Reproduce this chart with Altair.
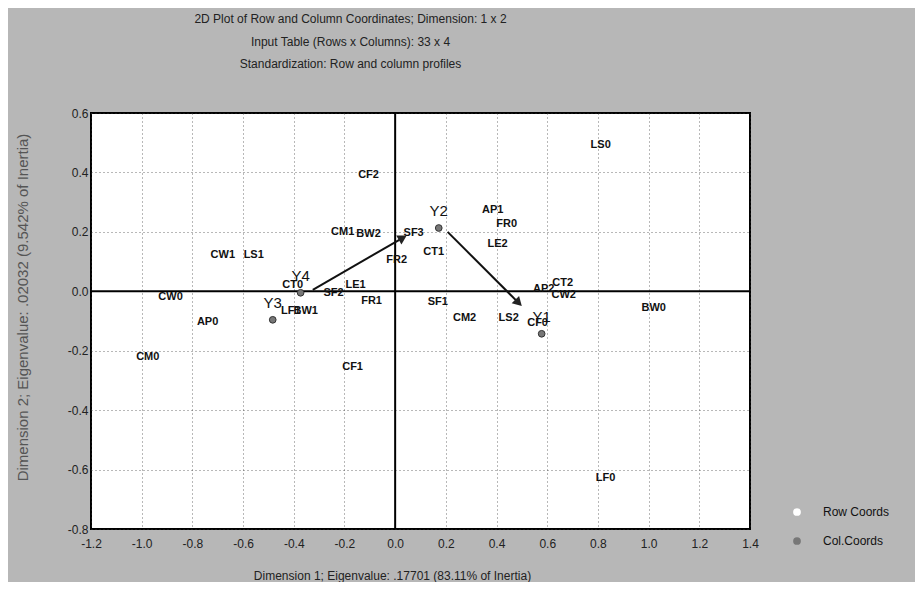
import math
import altair as alt
import pandas as pd

# ---------------- data ----------------
row_labels = ["CF2", "CM1", "BW2", "SF3", "FR2", "CT1", "CW1", "LS1", "CT0", "LE1",
              "SF2", "FR1", "LF1", "BW1", "CW0", "AP0", "CM0", "CF1", "LF0", "SF1",
              "CM2", "LS2", "CF0", "AP2", "CT2", "CW2", "BW0", "LS0", "AP1", "FR0", "LE2"]
row_x = [-0.105, -0.207, -0.105, 0.073, 0.006, 0.152, -0.680, -0.558, -0.404, -0.156,
         -0.243, -0.093, -0.412, -0.353, -0.886, -0.740, -0.976, -0.168, 0.830, 0.168,
         0.274, 0.448, 0.562, 0.586, 0.661, 0.665, 1.020, 0.811, 0.385, 0.440, 0.404]
row_y = [0.392, 0.200, 0.193, 0.197, 0.106, 0.133, 0.123, 0.123, 0.022, 0.022,
         -0.005, -0.032, -0.066, -0.066, -0.018, -0.103, -0.220, -0.254, -0.627, -0.035,
         -0.089, -0.089, -0.106, 0.008, 0.029, -0.012, -0.055, 0.492, 0.274, 0.227, 0.160]

col_labels = ["Y1", "Y2", "Y3", "Y4"]
col_x = [0.578, 0.172, -0.483, -0.373]
col_y = [-0.143, 0.213, -0.096, -0.005]

arrow_x = [-0.325, 0.207]
arrow_y = [0.005, 0.200]
arrow_x2 = [0.030, 0.487]
arrow_y2 = [0.180, -0.039]

x_ticks = [-1.2, -1.0, -0.8, -0.6, -0.4, -0.2, 0.0, 0.2, 0.4, 0.6, 0.8, 1.0, 1.2, 1.4]
y_ticks = [-0.8, -0.6, -0.4, -0.2, 0.0, 0.2, 0.4, 0.6]
x_domain = [-1.2, 1.4]
y_domain = [-0.8, 0.6]

title_lines = ["2D Plot of Row and Column Coordinates; Dimension: 1 x 2",
               "Input Table (Rows x Columns): 33 x 4",
               "Standardization: Row and column profiles"]
x_title = "Dimension 1; Eigenvalue: .17701 (83.11% of Inertia)"
y_title = "Dimension 2; Eigenvalue: .02032 (9.542% of Inertia)"
legend_names = ["Row Coords", "Col.Coords"]

# ---------------- layout ----------------
W, H = 659, 416
FONT = "Liberation Sans"

rows = pd.DataFrame({"label": row_labels, "x": row_x, "y": row_y})
cols = pd.DataFrame({"label": col_labels, "x": col_x, "y": col_y,
                     "kind": ["Col.Coords"] * len(col_labels)})

px_x = W / (x_domain[1] - x_domain[0])
px_y = H / (y_domain[1] - y_domain[0])
angles = []
for a, b, c, d in zip(arrow_x, arrow_y, arrow_x2, arrow_y2):
    ang = math.degrees(math.atan2(-(d - b) * px_y, (c - a) * px_x)) % 360
    angles.append(ang)
arrows = pd.DataFrame({"x": arrow_x, "y": arrow_y, "x2": arrow_x2, "y2": arrow_y2,
                       "angle": angles})
zero = pd.DataFrame({"v": [0.0]})

xscale = alt.Scale(domain=x_domain, nice=False, zero=False)
yscale = alt.Scale(domain=y_domain, nice=False, zero=False)

hyphen = "replace(format(datum.value, '.1f'), '\u2212', '-')"

xaxis = alt.Axis(values=x_ticks, labelExpr=hyphen, ticks=False, domain=False,
                 labelFlush=False, labelOverlap=False, labelPadding=9,
                 labelFontSize=12, labelFont=FONT, labelColor="#222",
                 grid=True, gridDash=[1, 3], gridColor="#333", gridOpacity=0.7,
                 titleFont=FONT, titleFontSize=12, titleFontWeight="normal",
                 titleColor="#222", titleX=301, titleY=46, titleAlign="center",
                 titleBaseline="middle")
yaxis = alt.Axis(values=y_ticks, labelExpr=hyphen, ticks=False, domain=False,
                 labelFlush=False, labelOverlap=False, labelPadding=3,
                 labelFontSize=12, labelFont=FONT, labelColor="#222",
                 grid=True, gridDash=[1, 3], gridColor="#333", gridOpacity=0.7,
                 titleFont=FONT, titleFontSize=15, titleFontWeight="normal",
                 titleColor="#555", titleX=-69, titleY=194, titleAngle=270,
                 titleAlign="center", titleBaseline="middle")


def X(field):
    return alt.X(field, type="quantitative", scale=xscale, axis=xaxis, title=x_title)


def Y(field):
    return alt.Y(field, type="quantitative", scale=yscale, axis=yaxis, title=y_title)


vline = alt.Chart(zero).mark_rule(color="black", strokeWidth=2).encode(x=X("v"))
hline = alt.Chart(zero).mark_rule(color="black", strokeWidth=2).encode(y=Y("v"))

row_text = alt.Chart(rows).mark_text(font=FONT, fontSize=11, fontWeight="bold",
                                     color="#111", align="center",
                                     baseline="middle").encode(
    x=X("x"), y=Y("y"), text="label:N")

arrow_lines = alt.Chart(arrows).mark_rule(color="#111", strokeWidth=2).encode(
    x=X("x"), y=Y("y"), x2="x2:Q", y2="y2:Q")
arrow_heads = alt.Chart(arrows).mark_point(shape="triangle-right", filled=True,
                                           size=110, color="#222",
                                           opacity=1).encode(
    x=X("x2"), y=Y("y2"), angle=alt.Angle("angle:Q", scale=None))

col_pts = alt.Chart(cols).mark_point(filled=True, size=45, stroke="#333",
                                     strokeWidth=1, opacity=1).encode(
    x=X("x"), y=Y("y"),
    color=alt.Color("kind:N",
                    scale=alt.Scale(domain=legend_names, range=["#ffffff", "#777777"]),
                    legend=alt.Legend(title=None, orient="none", legendX=700,
                                      legendY=393, labelFont=FONT, labelFontSize=12,
                                      labelColor="#111", symbolSize=60,
                                      symbolStrokeWidth=0, rowPadding=17,
                                      labelOffset=20, symbolType="circle")))
col_text = alt.Chart(cols).mark_text(font=FONT, fontSize=15, color="#111",
                                     align="center", baseline="middle",
                                     dy=-17).encode(
    x=X("x"), y=Y("y"), text="label:N")

chart = alt.layer(vline, hline, row_text, arrow_lines, arrow_heads, col_pts,
                  col_text).properties(
    width=W, height=H,
    title=alt.TitleParams(text=title_lines, anchor="middle", dx=-70, offset=36,
                          font=FONT, fontSize=12, fontWeight="normal",
                          lineHeight=22.5, color="#222"),
    autosize=alt.AutoSizeParams(type="none"),
    padding={"left": 83, "top": 105, "right": 165, "bottom": 53},
).configure(background="#b7b7b7").configure_view(fill="white", stroke="black",
                                                 strokeWidth=2)

chart.save("out.html", embed_options={"renderer": "svg", "actions": False})
